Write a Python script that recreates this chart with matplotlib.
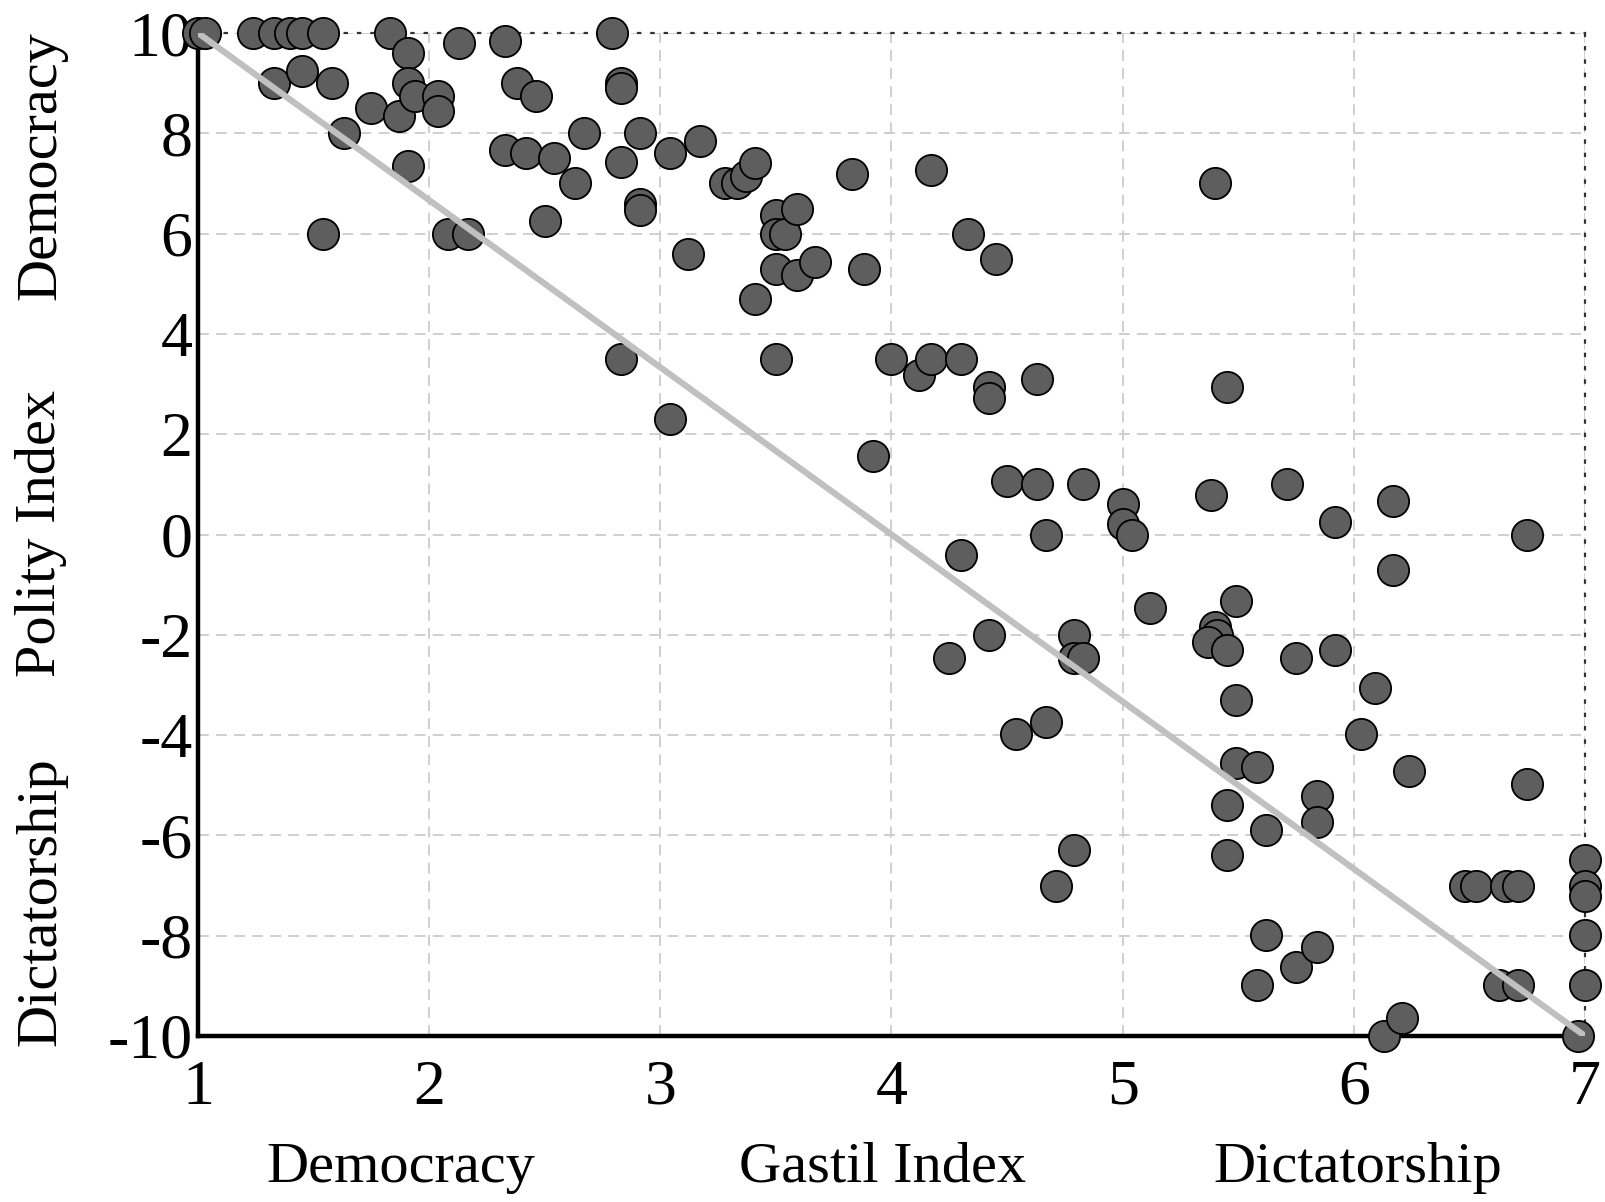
import numpy as np
import matplotlib.pyplot as plt

plt.rcParams['font.family'] = ['Liberation Serif', 'DejaVu Serif']
plt.rcParams['axes.unicode_minus'] = False

# Gastil index (x) vs Polity index (y)
gastil = [1.00, 1.03, 1.24, 1.33, 1.40, 1.45, 1.54, 1.83, 2.79,
          1.33, 1.45, 1.58, 1.63, 1.54, 1.75, 1.87, 1.91, 1.91, 1.94, 1.91,
          2.04, 2.04, 2.13, 2.08, 2.17, 2.33, 2.38, 2.46, 2.33, 2.42,
          2.54, 2.50, 2.63, 2.67, 2.83, 2.83, 2.83, 2.91, 2.91, 2.91,
          2.83, 3.04, 3.17, 3.12, 3.04, 3.28, 3.33, 3.37, 3.41, 3.41,
          3.50, 3.50, 3.54, 3.59, 3.50, 3.59, 3.67, 3.50, 3.83, 3.88,
          4.17, 4.33, 4.45, 4.00, 4.12, 4.17, 4.30, 4.42, 4.42, 3.92,
          4.63, 4.50, 4.63, 4.83, 4.67, 4.30, 4.42, 4.25, 4.79, 4.79,
          4.83, 4.54, 4.67, 4.79, 4.71, 5.00, 5.00, 5.04, 5.12, 5.40,
          5.45, 5.38, 5.71, 5.92, 6.17, 6.17, 5.49, 5.40, 5.41, 5.37,
          5.45, 5.75, 5.92, 5.49, 6.09, 5.49, 5.58, 5.45, 5.84, 5.84,
          5.62, 5.45, 6.03, 6.24, 6.75, 6.75, 5.62, 5.58, 5.75, 5.84,
          6.13, 6.21, 6.48, 6.53, 6.66, 6.71, 6.63, 6.71, 7.00, 7.00,
          7.00, 7.00, 7.00, 6.97]
polity = [10.0, 10.0, 10.0, 10.0, 10.0, 10.0, 10.0, 10.0, 10.0,
          9.0, 9.25, 9.0, 8.0, 6.0, 8.5, 8.35, 9.6, 9.0, 8.75, 7.35,
          8.75, 8.45, 9.8, 6.0, 6.0, 9.84, 9.0, 8.75, 7.67, 7.6,
          7.5, 6.25, 7.0, 8.0, 9.0, 8.9, 7.43, 8.0, 6.6, 6.48,
          3.5, 7.6, 7.85, 5.6, 2.3, 7.0, 7.0, 7.14, 7.4, 4.7,
          6.37, 6.0, 6.0, 6.5, 5.3, 5.18, 5.43, 3.5, 7.18, 5.3,
          7.27, 6.0, 5.5, 3.5, 3.18, 3.5, 3.5, 2.94, 2.73, 1.57,
          3.1, 1.06, 1.0, 1.0, 0.0, -0.41, -2.0, -2.47, -2.0, -2.47,
          -2.47, -3.98, -3.73, -6.3, -7.0, 0.61, 0.2, 0.0, -1.47, 7.0,
          2.94, 0.78, 1.0, 0.24, 0.67, -0.7, -1.33, -1.85, -2.0, -2.14,
          -2.31, -2.47, -2.31, -3.31, -3.06, -4.55, -4.63, -5.39, -5.22, -5.73,
          -5.9, -6.39, -3.98, -4.71, -4.98, 0.0, -7.98, -8.98, -8.63, -8.22,
          -10.0, -9.65, -7.0, -7.0, -7.0, -7.0, -8.98, -8.98, -6.49, -7.0,
          -7.2, -7.98, -8.98, -10.0]

# fitted line end points
fit_x = [1, 7]
fit_y = [10, -10]

xticks = [1, 2, 3, 4, 5, 6, 7]
yticks = [-10, -8, -6, -4, -2, 0, 2, 4, 6, 8, 10]

fig = plt.figure(figsize=(16.06, 12.02), dpi=100)
ax = fig.add_axes([198 / 1606, 1 - 1036 / 1202, 1387 / 1606, 1003 / 1202])

ax.scatter(gastil, polity, s=22.5 ** 2, c='#5e5e5e', edgecolors='black',
           linewidths=1.3, zorder=3, clip_on=False)
ax.plot(fit_x, fit_y, color='#c0c0c0', lw=4.5, zorder=4, solid_capstyle='butt')

ax.set_xlim(1, 7)
ax.set_ylim(-10, 10)
ax.set_xticks(xticks)
ax.set_yticks(yticks)
ax.tick_params(length=0, labelsize=46)
ax.tick_params(axis='x', pad=17)
ax.tick_params(axis='y', pad=4)

ax.grid(True, color='#cccccc', linestyle=(0, (6, 4)), linewidth=1.3, zorder=0)
ax.set_axisbelow(True)

for s in ['left', 'bottom']:
    ax.spines[s].set_linewidth(3.2)
    ax.spines[s].set_color('black')
for s in ['top', 'right']:
    ax.spines[s].set_linestyle((0, (1, 5)))
    ax.spines[s].set_linewidth(1.6)
    ax.spines[s].set_color('#333333')

# axis titles split in three parts
fs = 42
fig.text(41 / 1606, 1 - 166 / 1202, 'Democracy', rotation=90, fontsize=fs, ha='center', va='center')
fig.text(41 / 1606, 1 - 533 / 1202, 'Polity Index', rotation=90, fontsize=fs, ha='center', va='center')
fig.text(41 / 1606, 1 - 902 / 1202, 'Dictatorship', rotation=90, fontsize=fs, ha='center', va='center')
fig.text(401 / 1606, 1 - 1168 / 1202, 'Democracy', fontsize=fs, ha='center', va='center')
fig.text(883 / 1606, 1 - 1168 / 1202, 'Gastil Index', fontsize=fs, ha='center', va='center')
fig.text(1358 / 1606, 1 - 1168 / 1202, 'Dictatorship', fontsize=fs, ha='center', va='center')

fig.savefig('out.png', dpi=100)
